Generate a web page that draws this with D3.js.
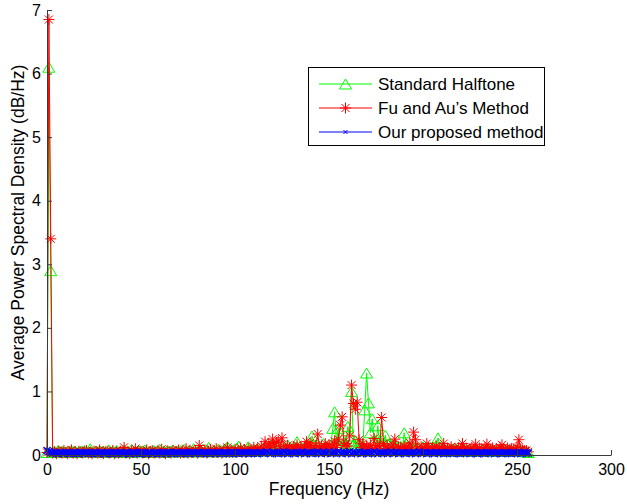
<!DOCTYPE html>
<html>
<head>
<meta charset="utf-8">
<script src="https://cdn.jsdelivr.net/npm/d3@7"></script>
<style>
  html, body { margin: 0; padding: 0; background: #fff; }
  svg { display: block; font-family: "Liberation Sans", Arial, Helvetica, sans-serif; }
</style>
</head>
<body>
<svg id="chart" width="627" height="504"></svg>
<script>
// Average power spectral density per frequency bin (bin i = i Hz), 0..256 Hz
const standardHalftone = [
  0.04, 6.10, 2.90, 0.05, 0.06, 0.04, 0.07, 0.05, 0.06, 0.05,
  0.04, 0.06, 0.05, 0.07, 0.05, 0.06, 0.04, 0.05, 0.06, 0.05,
  0.07, 0.05, 0.06, 0.10, 0.05, 0.04, 0.06, 0.05, 0.07, 0.05,
  0.06, 0.04, 0.05, 0.08, 0.05, 0.06, 0.05, 0.07, 0.04, 0.06,
  0.05, 0.08, 0.05, 0.06, 0.04, 0.09, 0.05, 0.06, 0.05, 0.07,
  0.05, 0.06, 0.08, 0.05, 0.04, 0.06, 0.05, 0.07, 0.05, 0.06,
  0.09, 0.05, 0.06, 0.04, 0.07, 0.05, 0.06, 0.08, 0.05, 0.06,
  0.05, 0.07, 0.05, 0.09, 0.06, 0.05, 0.07, 0.05, 0.10, 0.06,
  0.05, 0.07, 0.06, 0.09, 0.05, 0.08, 0.12, 0.06, 0.05, 0.07,
  0.06, 0.09, 0.05, 0.07, 0.06, 0.10, 0.13, 0.07, 0.05, 0.08,
  0.06, 0.11, 0.14, 0.07, 0.06, 0.09, 0.07, 0.13, 0.08, 0.06,
  0.09, 0.07, 0.10, 0.06, 0.08, 0.11, 0.07, 0.09, 0.14, 0.16,
  0.08, 0.07, 0.10, 0.13, 0.08, 0.07, 0.11, 0.09, 0.16, 0.08,
  0.10, 0.07, 0.12, 0.21, 0.09, 0.10, 0.08, 0.13, 0.09, 0.11,
  0.08, 0.30, 0.15, 0.12, 0.09, 0.14, 0.10, 0.18, 0.11, 0.13,
  0.09, 0.16, 0.42, 0.68, 0.20, 0.42, 0.14, 0.25, 0.12, 0.18,
  0.45, 0.30, 1.00, 0.16, 0.22, 0.12, 0.19, 0.10, 0.15, 0.71,
  1.29, 0.82, 0.35, 0.57, 0.22, 0.18, 0.46, 0.15, 0.27, 0.13,
  0.31, 0.12, 0.18, 0.15, 0.10, 0.17, 0.12, 0.09, 0.14, 0.11,
  0.35, 0.18, 0.12, 0.09, 0.15, 0.10, 0.12, 0.08, 0.11, 0.09,
  0.13, 0.08, 0.10, 0.07, 0.12, 0.09, 0.08, 0.15, 0.27, 0.12,
  0.08, 0.10, 0.07, 0.09, 0.06, 0.08, 0.10, 0.07, 0.09, 0.06,
  0.08, 0.07, 0.09, 0.06, 0.08, 0.07, 0.06, 0.09, 0.07, 0.08,
  0.06, 0.07, 0.09, 0.06, 0.08, 0.07, 0.06, 0.08, 0.07, 0.06,
  0.08, 0.07, 0.06, 0.09, 0.07, 0.06, 0.08, 0.07, 0.06, 0.08,
  0.07, 0.06, 0.08, 0.07, 0.06, 0.05, 0.04
];

const fuAuMethod = [
  0.04, 6.85, 3.40, 0.03, 0.05, 0.02, 0.06, 0.04, 0.03, 0.07,
  0.04, 0.02, 0.05, 0.08, 0.03, 0.05, 0.02, 0.06, 0.04, 0.03,
  0.05, 0.07, 0.03, 0.04, 0.02, 0.06, 0.05, 0.03, 0.08, 0.04,
  0.02, 0.05, 0.06, 0.03, 0.04, 0.07, 0.02, 0.05, 0.03, 0.06,
  0.04, 0.12, 0.03, 0.05, 0.02, 0.06, 0.04, 0.10, 0.03, 0.05,
  0.06, 0.03, 0.04, 0.08, 0.02, 0.05, 0.07, 0.03, 0.04, 0.06,
  0.03, 0.09, 0.04, 0.02, 0.06, 0.05, 0.03, 0.07, 0.04, 0.05,
  0.08, 0.03, 0.05, 0.04, 0.10, 0.03, 0.06, 0.04, 0.05, 0.07,
  0.03, 0.15, 0.05, 0.04, 0.08, 0.03, 0.06, 0.09, 0.04, 0.05,
  0.10, 0.04, 0.06, 0.03, 0.08, 0.05, 0.12, 0.04, 0.07, 0.05,
  0.09, 0.04, 0.06, 0.11, 0.05, 0.08, 0.04, 0.10, 0.06, 0.05,
  0.12, 0.07, 0.09, 0.05, 0.14, 0.08, 0.21, 0.11, 0.18, 0.12,
  0.25, 0.14, 0.20, 0.22, 0.10, 0.27, 0.13, 0.09, 0.15, 0.11,
  0.08, 0.13, 0.10, 0.16, 0.09, 0.12, 0.08, 0.14, 0.21, 0.12,
  0.19, 0.12, 0.09, 0.15, 0.33, 0.11, 0.14, 0.10, 0.18, 0.12,
  0.16, 0.10, 0.14, 0.22, 0.12, 0.25, 0.47, 0.60, 0.15, 0.18,
  0.14, 0.30, 1.10, 0.81, 0.72, 0.83, 0.24, 0.12, 0.18, 0.09,
  0.14, 0.10, 0.16, 0.08, 0.26, 0.11, 0.15, 0.13, 0.59, 0.18,
  0.10, 0.14, 0.08, 0.12, 0.16, 0.25, 0.09, 0.13, 0.11, 0.08,
  0.14, 0.10, 0.12, 0.19, 0.09, 0.36, 0.24, 0.11, 0.08, 0.13,
  0.10, 0.09, 0.18, 0.12, 0.07, 0.11, 0.09, 0.14, 0.08, 0.12,
  0.10, 0.18, 0.07, 0.11, 0.09, 0.13, 0.08, 0.10, 0.07, 0.12,
  0.09, 0.18, 0.08, 0.11, 0.07, 0.10, 0.12, 0.09, 0.17, 0.08,
  0.11, 0.09, 0.07, 0.12, 0.17, 0.10, 0.08, 0.11, 0.07, 0.10,
  0.08, 0.12, 0.16, 0.09, 0.07, 0.11, 0.08, 0.10, 0.09, 0.07,
  0.12, 0.24, 0.09, 0.08, 0.06, 0.07, 0.05
];

const proposedMethod = [
  0.07, 0.05, 0.04, 0.03, 0.04, 0.03, 0.02, 0.04, 0.03, 0.03,
  0.04, 0.03, 0.02, 0.03, 0.04, 0.03, 0.03, 0.02, 0.04, 0.03,
  0.03, 0.04, 0.02, 0.03, 0.03, 0.04, 0.03, 0.02, 0.03, 0.04,
  0.03, 0.02, 0.04, 0.03, 0.03, 0.02, 0.04, 0.03, 0.03, 0.04,
  0.02, 0.03, 0.04, 0.03, 0.02, 0.03, 0.04, 0.03, 0.03, 0.02,
  0.04, 0.03, 0.03, 0.02, 0.04, 0.03, 0.02, 0.03, 0.04, 0.03,
  0.03, 0.02, 0.04, 0.03, 0.03, 0.04, 0.02, 0.03, 0.03, 0.04,
  0.03, 0.02, 0.03, 0.04, 0.03, 0.03, 0.02, 0.04, 0.03, 0.03,
  0.04, 0.03, 0.02, 0.03, 0.04, 0.03, 0.03, 0.02, 0.04, 0.03,
  0.03, 0.04, 0.02, 0.03, 0.03, 0.04, 0.03, 0.02, 0.03, 0.04,
  0.03, 0.03, 0.02, 0.04, 0.03, 0.03, 0.04, 0.02, 0.03, 0.03,
  0.04, 0.03, 0.02, 0.03, 0.04, 0.03, 0.03, 0.05, 0.03, 0.02,
  0.04, 0.03, 0.03, 0.02, 0.04, 0.03, 0.05, 0.03, 0.02, 0.03,
  0.04, 0.03, 0.02, 0.04, 0.03, 0.03, 0.05, 0.02, 0.03, 0.04,
  0.03, 0.02, 0.04, 0.03, 0.05, 0.03, 0.02, 0.04, 0.03, 0.03,
  0.05, 0.02, 0.03, 0.04, 0.03, 0.05, 0.03, 0.02, 0.04, 0.03,
  0.03, 0.05, 0.02, 0.04, 0.03, 0.03, 0.05, 0.02, 0.03, 0.04,
  0.03, 0.02, 0.04, 0.03, 0.05, 0.03, 0.02, 0.04, 0.03, 0.03,
  0.04, 0.02, 0.03, 0.05, 0.03, 0.03, 0.04, 0.02, 0.03, 0.04,
  0.03, 0.02, 0.04, 0.03, 0.03, 0.04, 0.02, 0.03, 0.05, 0.03,
  0.03, 0.04, 0.02, 0.03, 0.04, 0.03, 0.02, 0.04, 0.03, 0.03,
  0.04, 0.02, 0.03, 0.03, 0.04, 0.03, 0.02, 0.04, 0.03, 0.03,
  0.02, 0.04, 0.03, 0.03, 0.04, 0.02, 0.03, 0.04, 0.03, 0.02,
  0.03, 0.04, 0.03, 0.02, 0.04, 0.03, 0.03, 0.04, 0.02, 0.03,
  0.04, 0.03, 0.02, 0.03, 0.04, 0.03, 0.03, 0.02, 0.04, 0.03,
  0.03, 0.04, 0.02, 0.03, 0.04, 0.03, 0.03
];

const seriesNames = ["Standard Halftone", "Fu and Au\u2019s Method", "Our proposed method"];
const xTicks = [0, 50, 100, 150, 200, 250, 300];
const yTicks = [0, 1, 2, 3, 4, 5, 6, 7];
const xLabel = "Frequency (Hz)";
const yLabel = "Average Power Spectral Density (dB/Hz)";

const svg = d3.select("#chart");
svg.append("rect").attr("width", 627).attr("height", 504).attr("fill", "#fff");

const x = d3.scaleLinear().domain([0, 300]).range([47, 611]);
const y = d3.scaleLinear().domain([0, 7]).range([455, 10]);

// Marker shapes: open triangle, asterisk, cross
function triangle(sel) {
  sel.append("path")
    .attr("d", "M0,-5L6,5L-6,5Z")
    .attr("fill", "none");
}
function asterisk(sel) {
  sel.append("path")
    .attr("d", "M-5.5,0H5.5M0,-5.5V5.5M-4,-4L4,4M-4,4L4,-4")
    .attr("fill", "none");
}
function cross(sel, r = 3.5) {
  sel.append("path")
    .attr("d", `M${-r},${-r}L${r},${r}M${-r},${r}L${r},${-r}`)
    .attr("fill", "none");
}

const series = [
  { name: seriesNames[0], values: standardHalftone, color: "#00ff00", marker: triangle, width: 1 },
  { name: seriesNames[1], values: fuAuMethod, color: "#ff0000", marker: asterisk, width: 1 },
  { name: seriesNames[2], values: proposedMethod, color: "#0000ff", marker: cross, width: 1.4 }
];

const line = d3.line()
  .x((d, i) => x(i))
  .y(d => y(d));

const plot = svg.append("g");
series.forEach(s => {
  const g = plot.append("g").attr("stroke", s.color).attr("stroke-width", s.width);
  g.append("path").datum(s.values).attr("d", line).attr("fill", "none");
  g.selectAll("g.m").data(s.values).join("g")
    .attr("class", "m")
    .attr("transform", (d, i) => `translate(${x(i)},${y(d)})`)
    .each(function () { s.marker(d3.select(this)); });
});

// Axes (left and bottom only, ticks pointing inward)
const axisColor = "#3a3a3a";
const xAxis = svg.append("g").attr("transform", `translate(0,${y(0)})`)
  .call(d3.axisBottom(x).tickValues(xTicks).tickFormat(d3.format("d"))
    .tickSizeInner(-5).tickSizeOuter(0).tickPadding(9));
const yAxis = svg.append("g").attr("transform", `translate(${x(0)},0)`)
  .call(d3.axisLeft(y).tickValues(yTicks).tickFormat(d3.format("d"))
    .tickSizeInner(-5).tickSizeOuter(0).tickPadding(6));
[xAxis, yAxis].forEach(a => {
  a.select(".domain").attr("stroke", axisColor).attr("stroke-width", 1);
  a.selectAll(".tick line").attr("stroke", axisColor);
  a.selectAll(".tick text")
    .attr("fill", "#000")
    .attr("font-size", 16)
    .attr("font-family", "'Liberation Sans', Arial, Helvetica, sans-serif");
});
xAxis.selectAll(".tick text").attr("dy", "0.71em");

svg.append("text")
  .attr("x", (x(0) + x(300)) / 2).attr("y", 495)
  .attr("text-anchor", "middle").attr("font-size", 17.5)
  .text(xLabel);

svg.append("text")
  .attr("transform", `translate(24,${(57 + 388) / 2}) rotate(-90)`)
  .attr("text-anchor", "middle").attr("font-size", 17.5)
  .text(yLabel);

// Legend
const legend = svg.append("g");
legend.append("rect")
  .attr("x", 308.5).attr("y", 67.5).attr("width", 236).attr("height", 78)
  .attr("fill", "#fff").attr("stroke", "#000").attr("stroke-width", 1);
series.forEach((s, i) => {
  const cy = 84 + i * 24;
  const row = legend.append("g").attr("stroke", s.color).attr("stroke-width", 1);
  row.append("line").attr("x1", 319).attr("x2", 372).attr("y1", cy).attr("y2", cy);
  const mk = row.append("g").attr("transform", `translate(345.5,${cy})`);
  if (s.marker === cross) cross(mk, 2); else s.marker(mk);
  legend.append("text")
    .attr("x", 378).attr("y", cy).attr("dy", "0.35em")
    .attr("font-size", 17).attr("fill", "#000")
    .text(s.name);
});
</script>
</body>
</html>
